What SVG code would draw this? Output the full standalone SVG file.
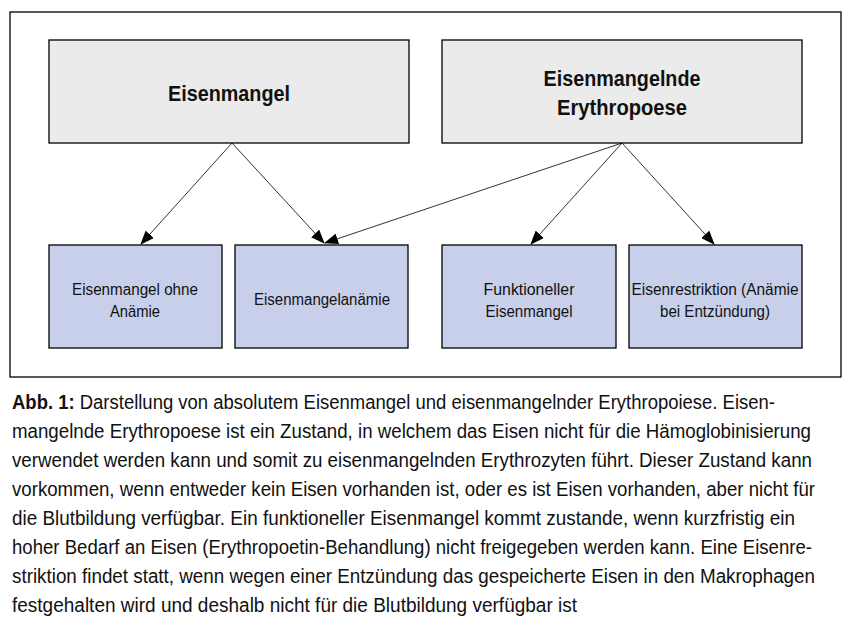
<svg xmlns="http://www.w3.org/2000/svg" width="851" height="632" viewBox="0 0 851 632">
<style>
.top{fill:#ebebeb;stroke:#000;stroke-width:1.3}
.bot{fill:#c8cfea;stroke:#000;stroke-width:1.3}
.t1{font-family:"Liberation Sans",Arial,sans-serif;font-size:22px;font-weight:bold;fill:#111;text-anchor:middle}
.t2{font-family:"Liberation Sans",Arial,sans-serif;font-size:16px;fill:#111;text-anchor:middle}
.cap{font-family:"Liberation Sans",Arial,sans-serif;font-size:19.5px;fill:#111}
.conn line{stroke:#333;stroke-width:1;marker-end:url(#ah)}
</style>
<defs>
<marker id="ah" markerWidth="14" markerHeight="11" refX="13" refY="5.5" orient="auto" markerUnits="userSpaceOnUse">
<path d="M0,0 L14,5.5 L0,11 Z" fill="#000"/>
</marker>
</defs>
<rect x="0" y="0" width="851" height="632" fill="#fff"/>
<rect x="10" y="12" width="831" height="365" fill="none" stroke="#000" stroke-width="1.3"/>
<g id="connectors" class="conn">
<line x1="232" y1="143" x2="141" y2="244"/>
<line x1="232" y1="143" x2="324" y2="243"/>
<line x1="622" y1="143" x2="325" y2="243"/>
<line x1="622" y1="143" x2="531" y2="244"/>
<line x1="622" y1="143" x2="714" y2="244"/>
</g>
<g id="n-eisenmangel">
<rect class="top" x="49" y="40" width="360" height="103"/>
<text class="t1" x="229" y="101" textLength="122" lengthAdjust="spacingAndGlyphs">Eisenmangel</text>
</g>
<g id="n-erythropoese">
<rect class="top" x="442" y="40" width="360" height="103"/>
<text class="t1" x="622" y="86" textLength="157" lengthAdjust="spacingAndGlyphs">Eisenmangelnde</text>
<text class="t1" x="622" y="115" textLength="130" lengthAdjust="spacingAndGlyphs">Erythropoese</text>
</g>
<g id="n-ohne">
<rect class="bot" x="49" y="245" width="173" height="103"/>
<text class="t2" x="135" y="295" textLength="126" lengthAdjust="spacingAndGlyphs">Eisenmangel ohne</text>
<text class="t2" x="135" y="317" textLength="50" lengthAdjust="spacingAndGlyphs">Anämie</text>
</g>
<g id="n-anaemie">
<rect class="bot" x="235" y="245" width="173" height="103"/>
<text class="t2" x="322" y="305" textLength="136" lengthAdjust="spacingAndGlyphs">Eisenmangelanämie</text>
</g>
<g id="n-funktionell">
<rect class="bot" x="442" y="245" width="174" height="103"/>
<text class="t2" x="529" y="295" textLength="91" lengthAdjust="spacingAndGlyphs">Funktioneller</text>
<text class="t2" x="529" y="317" textLength="87" lengthAdjust="spacingAndGlyphs">Eisenmangel</text>
</g>
<g id="n-restriktion">
<rect class="bot" x="629" y="245" width="173" height="103"/>
<text class="t2" x="715" y="295" textLength="167" lengthAdjust="spacingAndGlyphs">Eisenrestriktion (Anämie</text>
<text class="t2" x="715" y="317" textLength="110" lengthAdjust="spacingAndGlyphs">bei Entzündung)</text>
</g>
<g id="caption" class="cap">
<text x="12" y="409" textLength="763" lengthAdjust="spacingAndGlyphs"><tspan font-weight="bold">Abb. 1:</tspan> Darstellung von absolutem Eisenmangel und eisenmangelnder Erythropoiese. Eisen-</text>
<text x="12" y="438" textLength="799" lengthAdjust="spacingAndGlyphs">mangelnde Erythropoese ist ein Zustand, in welchem das Eisen nicht für die Hämoglobinisierung</text>
<text x="12" y="467" textLength="800" lengthAdjust="spacingAndGlyphs">verwendet werden kann und somit zu eisenmangelnden Erythrozyten führt. Dieser Zustand kann</text>
<text x="12" y="496" textLength="803" lengthAdjust="spacingAndGlyphs">vorkommen, wenn entweder kein Eisen vorhanden ist, oder es ist Eisen vorhanden, aber nicht für</text>
<text x="12" y="525" textLength="783" lengthAdjust="spacingAndGlyphs">die Blutbildung verfügbar. Ein funktioneller Eisenmangel kommt zustande, wenn kurzfristig ein</text>
<text x="12" y="554" textLength="800" lengthAdjust="spacingAndGlyphs">hoher Bedarf an Eisen (Erythropoetin-Behandlung) nicht freigegeben werden kann. Eine Eisenre-</text>
<text x="12" y="583" textLength="803" lengthAdjust="spacingAndGlyphs">striktion findet statt, wenn wegen einer Entzündung das gespeicherte Eisen in den Makrophagen</text>
<text x="12" y="612" textLength="565" lengthAdjust="spacingAndGlyphs">festgehalten wird und deshalb nicht für die Blutbildung verfügbar ist</text>
</g>
</svg>
